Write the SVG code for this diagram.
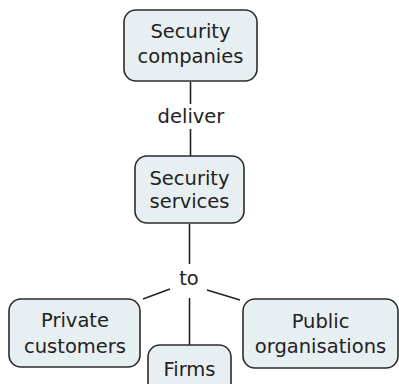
<svg xmlns="http://www.w3.org/2000/svg" width="399" height="384" viewBox="0 0 399 384">
<style>
.box{fill:#e8eff3;stroke:#2b2b2b;stroke-width:1.6}
.t{font-family:"DejaVu Sans",Verdana,sans-serif;font-size:19.5px;fill:#222;text-anchor:middle}
.c{stroke:#222;stroke-width:1.6;fill:none}
</style>
<rect width="399" height="384" fill="#fff"/>
<g id="connectors">
<line class="c" x1="190.5" y1="82" x2="190.5" y2="104"/>
<text class="t" x="191" y="123">deliver</text>
<line class="c" x1="190.5" y1="129" x2="190.5" y2="156"/>
<line class="c" x1="189.5" y1="224" x2="189.5" y2="264"/>
<text class="t" x="189" y="285">to</text>
<line class="c" x1="143" y1="299" x2="170" y2="289"/>
<line class="c" x1="207" y1="290" x2="240" y2="300"/>
<line class="c" x1="189.5" y1="298" x2="189.5" y2="345"/>
</g>
<g id="security-companies">
<rect class="box" x="124" y="10" width="133" height="71" rx="12"/>
<text class="t" x="190.5" y="38">Security</text>
<text class="t" x="190.5" y="63">companies</text>
</g>
<g id="security-services">
<rect class="box" x="135" y="156" width="109" height="67" rx="12"/>
<text class="t" x="189.5" y="185">Security</text>
<text class="t" x="189.5" y="208">services</text>
</g>
<g id="private-customers">
<rect class="box" x="9" y="299" width="131" height="68" rx="12"/>
<text class="t" x="75" y="327">Private</text>
<text class="t" x="75" y="353">customers</text>
</g>
<g id="firms">
<rect class="box" x="148" y="345" width="83" height="50" rx="12"/>
<text class="t" x="189.5" y="376">Firms</text>
</g>
<g id="public-organisations">
<rect class="box" x="243" y="299" width="155" height="69" rx="12"/>
<text class="t" x="320.5" y="328">Public</text>
<text class="t" x="320.5" y="353">organisations</text>
</g>
</svg>
